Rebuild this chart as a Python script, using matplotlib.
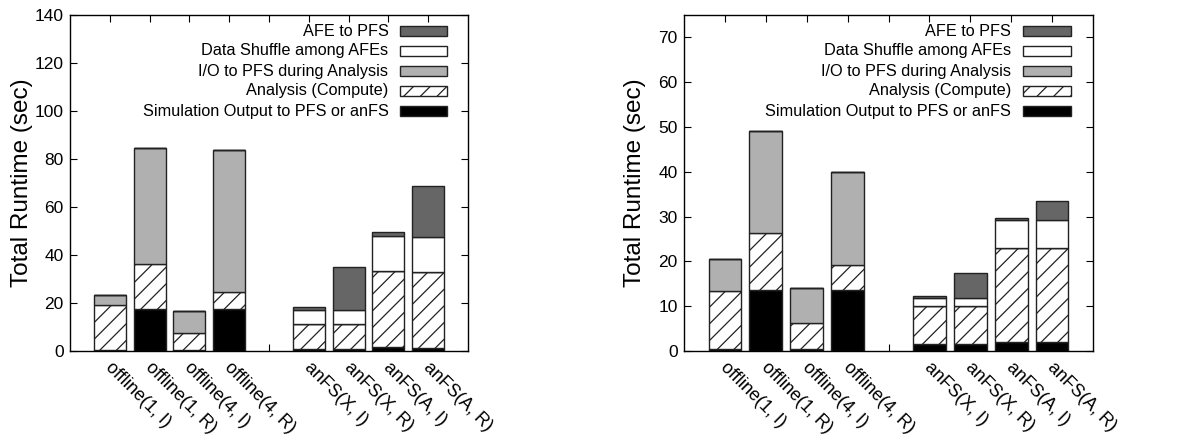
import matplotlib
matplotlib.use("Agg")
import matplotlib.pyplot as plt
from matplotlib.patches import Rectangle
import numpy as np

plt.rcParams["font.family"] = ["Liberation Sans", "DejaVu Sans"]
plt.rcParams["hatch.linewidth"] = 0.9

labels = ["offline(1, I)", "offline(1, R)", "offline(4, I)", "offline(4, R)",
          "anFS(X, I)", "anFS(X, R)", "anFS(A, I)", "anFS(A, R)"]

series_names = ["Simulation Output to PFS or anFS", "Analysis (Compute)",
                "I/O to PFS during Analysis", "Data Shuffle among AFEs", "AFE to PFS"]

# left panel (sec)
left_sim = [0.5, 17.4, 0.5, 17.4, 1.0, 1.0, 1.7, 1.3]
left_compute = [18.8, 18.9, 7.1, 7.3, 10.1, 10.1, 31.7, 31.5]
left_io = [4.1, 48.4, 9.1, 58.9, 0, 0, 0, 0]
left_shuffle = [0, 0, 0, 0, 6.1, 6.1, 14.4, 14.5]
left_afe = [0, 0, 0, 0, 1.1, 17.8, 1.6, 21.5]

# right panel (sec)
right_sim = [0.5, 13.55, 0.5, 13.55, 1.5, 1.5, 2.0, 2.0]
right_compute = [12.8, 12.75, 5.8, 5.75, 8.5, 8.5, 21.0, 21.0]
right_io = [7.3, 22.8, 7.8, 20.7, 0, 0, 0, 0]
right_shuffle = [0, 0, 0, 0, 1.8, 1.8, 6.2, 6.2]
right_afe = [0, 0, 0, 0, 0.5, 5.5, 0.4, 4.2]

styles = [
    {"facecolor": "black", "hatch": None},
    {"facecolor": "white", "hatch": "//"},
    {"facecolor": "#b0b0b0", "hatch": None},
    {"facecolor": "white", "hatch": None},
    {"facecolor": "#666666", "hatch": None},
]
EDGE = "#222222"


def draw_panel(ax, stacks, ymax, ystep):
    x = np.array(list(range(4)) + list(range(5, 9)))
    bottom = np.zeros(len(x))
    for values, style in zip(stacks, styles):
        ax.bar(x, values, width=0.8, bottom=bottom, facecolor=style["facecolor"],
               hatch=style["hatch"], edgecolor=EDGE, linewidth=1.0, zorder=2)
        bottom += np.array(values)

    ax.set_xlim(-1, 9)
    ax.set_ylim(0, ymax)
    ax.set_yticks(np.arange(0, ymax + 0.1, ystep))
    ax.set_xticks(range(9))
    ax.set_xticklabels([])
    for xi, lab in zip(x, labels):
        ax.text(xi + 0.1, -0.025 * ymax, lab, rotation=-45, ha="left", va="top",
                rotation_mode="anchor", fontsize=13,
                transform=ax.transData)
    ax.tick_params(direction="in", top=True, right=True, length=5,
                   labelsize=12.5, width=0.8, pad=4.5)
    ax.set_ylabel("Total Runtime (sec)", fontsize=17.5)
    ax.yaxis.set_label_coords(-0.093, 0.5)
    for sp in ax.spines.values():
        sp.set_linewidth(1.0)

    # legend, text right aligned with swatch on the right (gnuplot style)
    rows_y = [0.952, 0.893, 0.833, 0.774, 0.713]
    for yy, name, style in zip(rows_y, series_names[::-1], styles[::-1]):
        ax.text(0.800, yy, name, ha="right", va="center", fontsize=11.7,
                transform=ax.transAxes)
        ax.add_patch(Rectangle((0.829, yy - 0.015), 0.118, 0.030,
                               transform=ax.transAxes, facecolor=style["facecolor"],
                               hatch=style["hatch"], edgecolor=EDGE, linewidth=1.0,
                               clip_on=False, zorder=3))


fig = plt.figure(figsize=(11.9, 4.45), dpi=100)
ax1 = fig.add_axes([70 / 1190, 1 - 351 / 445, 398 / 1190, 336 / 445])
ax2 = fig.add_axes([684 / 1190, 1 - 351 / 445, 409 / 1190, 336 / 445])

draw_panel(ax1, [left_sim, left_compute, left_io, left_shuffle, left_afe], 140, 20)
draw_panel(ax2, [right_sim, right_compute, right_io, right_shuffle, right_afe], 75, 10)

fig.savefig("out.png", dpi=100)
